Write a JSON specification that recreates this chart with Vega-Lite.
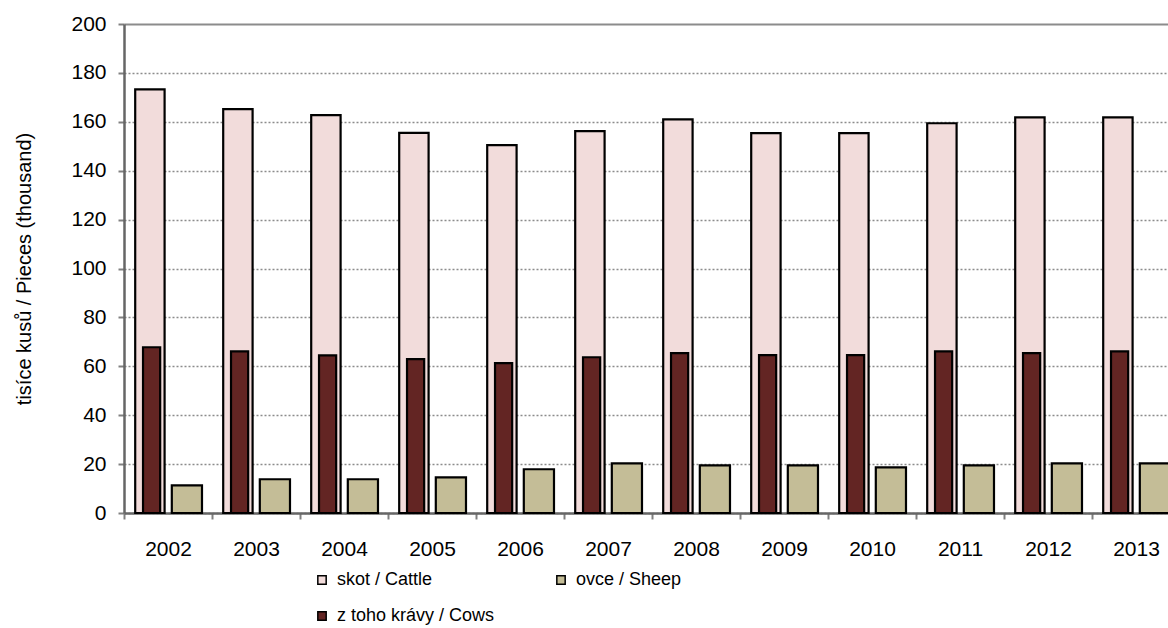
{
  "$schema": "https://vega.github.io/schema/vega-lite/v6.json",
  "autosize": {"type": "none"},
  "padding": {"left": 124, "top": 24, "right": 0, "bottom": 115},
  "width": 1044,
  "height": 489,
  "background": "white",
  "config": {
    "font": "Liberation Sans",
    "view": {"stroke": null},
    "axis": {"labelFont": "Liberation Sans", "titleFont": "Liberation Sans", "labelColor": "black", "titleColor": "black"}
  },
  "data": {
    "values": [
      {"year": "2002", "series": "skot / Cattle", "value": 173.3},
      {"year": "2003", "series": "skot / Cattle", "value": 165.2},
      {"year": "2004", "series": "skot / Cattle", "value": 162.7},
      {"year": "2005", "series": "skot / Cattle", "value": 155.5},
      {"year": "2006", "series": "skot / Cattle", "value": 150.5},
      {"year": "2007", "series": "skot / Cattle", "value": 156.2},
      {"year": "2008", "series": "skot / Cattle", "value": 161.0},
      {"year": "2009", "series": "skot / Cattle", "value": 155.4},
      {"year": "2010", "series": "skot / Cattle", "value": 155.4},
      {"year": "2011", "series": "skot / Cattle", "value": 159.4},
      {"year": "2012", "series": "skot / Cattle", "value": 161.8},
      {"year": "2013", "series": "skot / Cattle", "value": 161.8},
      {"year": "2002", "series": "z toho krávy / Cows", "value": 67.8},
      {"year": "2003", "series": "z toho krávy / Cows", "value": 66.1},
      {"year": "2004", "series": "z toho krávy / Cows", "value": 64.5},
      {"year": "2005", "series": "z toho krávy / Cows", "value": 62.9},
      {"year": "2006", "series": "z toho krávy / Cows", "value": 61.3},
      {"year": "2007", "series": "z toho krávy / Cows", "value": 63.7},
      {"year": "2008", "series": "z toho krávy / Cows", "value": 65.4},
      {"year": "2009", "series": "z toho krávy / Cows", "value": 64.6},
      {"year": "2010", "series": "z toho krávy / Cows", "value": 64.6},
      {"year": "2011", "series": "z toho krávy / Cows", "value": 66.1},
      {"year": "2012", "series": "z toho krávy / Cows", "value": 65.4},
      {"year": "2013", "series": "z toho krávy / Cows", "value": 66.1},
      {"year": "2002", "series": "ovce / Sheep", "value": 11.3},
      {"year": "2003", "series": "ovce / Sheep", "value": 13.8},
      {"year": "2004", "series": "ovce / Sheep", "value": 13.8},
      {"year": "2005", "series": "ovce / Sheep", "value": 14.6},
      {"year": "2006", "series": "ovce / Sheep", "value": 17.9},
      {"year": "2007", "series": "ovce / Sheep", "value": 20.3},
      {"year": "2008", "series": "ovce / Sheep", "value": 19.5},
      {"year": "2009", "series": "ovce / Sheep", "value": 19.5},
      {"year": "2010", "series": "ovce / Sheep", "value": 18.7},
      {"year": "2011", "series": "ovce / Sheep", "value": 19.5},
      {"year": "2012", "series": "ovce / Sheep", "value": 20.3},
      {"year": "2013", "series": "ovce / Sheep", "value": 20.3}
    ]
  },
  "encoding": {
    "x": {
      "field": "year", "type": "nominal",
      "scale": {"range": [0, 1056], "paddingInner": 0, "paddingOuter": 0},
      "axis": {
        "title": null, "labelAngle": 0, "labelFontSize": 21, "labelPadding": 19,
        "tickBand": "extent", "tickSize": 6, "tickColor": "#808080", "tickWidth": 2,
        "domainColor": "#666666", "domainWidth": 2.5
      }
    },
    "y": {
      "field": "value", "type": "quantitative",
      "scale": {"domain": [0, 200], "nice": false},
      "axis": {
        "title": "tisíce kusů / Pieces (thousand)",
        "titleFontSize": 20, "titleFontWeight": "normal", "titlePadding": 36,
        "values": [0, 20, 40, 60, 80, 100, 120, 140, 160, 180, 200],
        "labelFontSize": 21, "labelPadding": 12,
        "tickSize": 6, "tickColor": "#808080", "tickWidth": 2,
        "domainColor": "#666666", "domainWidth": 2.5,
        "grid": true,
        "gridColor": "#8c8c8c",
        "gridWidth": {"condition": {"test": "datum.value === 200", "value": 2}, "value": 1.5},
        "gridDash": {"condition": {"test": "datum.value === 200", "value": []}, "value": [2, 2]}
      }
    },
    "color": {
      "field": "series", "type": "nominal",
      "scale": {
        "domain": ["skot / Cattle", "ovce / Sheep", "z toho krávy / Cows"],
        "range": ["#F2DCDB", "#C4BD97", "#632523"]
      },
      "legend": {
        "title": null, "orient": "none", "legendX": 189, "legendY": 547,
        "direction": "horizontal", "columns": 2, "columnPadding": 57, "rowPadding": 18,
        "symbolType": "square", "symbolSize": 70, "symbolStrokeColor": "black", "symbolStrokeWidth": 1.5,
        "labelFontSize": 18, "labelFont": "Liberation Sans", "labelColor": "black", "labelOffset": 6, "labelLimit": 300
      }
    }
  },
  "layer": [
    {
      "transform": [{"filter": "datum.series === 'skot / Cattle'"}],
      "mark": {"type": "bar", "width": {"band": 0.334}, "xOffset": -18.1, "stroke": "black", "strokeWidth": 2.2}
    },
    {
      "transform": [{"filter": "datum.series === 'z toho krávy / Cows'"}],
      "mark": {"type": "bar", "width": {"band": 0.195}, "xOffset": -16.4, "stroke": "black", "strokeWidth": 2.2}
    },
    {
      "transform": [{"filter": "datum.series === 'ovce / Sheep'"}],
      "mark": {"type": "bar", "width": {"band": 0.343}, "xOffset": 18.9, "stroke": "black", "strokeWidth": 2.2}
    }
  ]
}
